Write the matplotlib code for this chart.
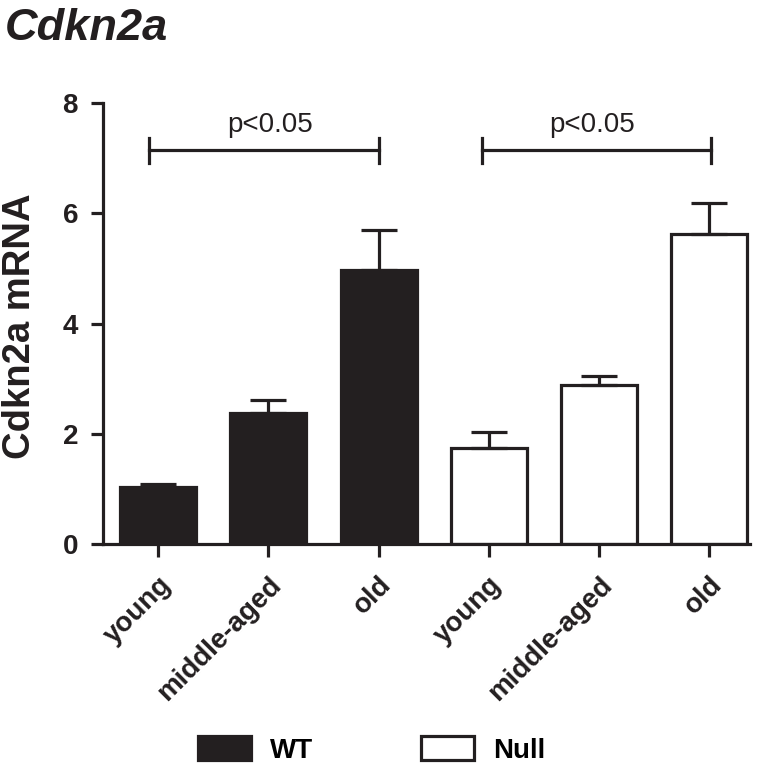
import matplotlib.pyplot as plt
import numpy as np
from matplotlib.patches import Patch

plt.rcParams['font.family'] = ['Liberation Sans', 'DejaVu Sans']

ages = ['young', 'middle-aged', 'old']
wt_mean = [1.03, 2.37, 4.97]
wt_sem = [0.05, 0.24, 0.72]
null_mean = [1.74, 2.89, 5.62]
null_sem = [0.30, 0.16, 0.57]

# significance brackets: (start, end, label position)
brackets = [(-0.08, 2.0, 1.02), (2.94, 5.02, 3.94)]
p_label = 'p<0.05'

ink = '#231f20'
lw = 2.3

fig = plt.figure(figsize=(7.65, 7.68), dpi=100)
ax = fig.add_axes([103/765, 1-544/768, 647/765, 441/768])

x = np.arange(6)
means = wt_mean + null_mean
sems = wt_sem + null_sem
faces = [ink]*3 + ['white']*3

ax.bar(x, means, width=0.69, color=faces, edgecolor=ink, linewidth=lw, zorder=2)
ax.errorbar(x, means, yerr=[np.zeros(6), sems], fmt='none', ecolor=ink,
            elinewidth=lw, capsize=13, capthick=lw, zorder=3)

for x0, x1, xt in brackets:
    ax.plot([x0, x1], [7.14, 7.14], color=ink, lw=lw, clip_on=False)
    ax.plot([x0, x0], [6.92, 7.36], color=ink, lw=lw, clip_on=False)
    ax.plot([x1, x1], [6.92, 7.36], color=ink, lw=lw, clip_on=False)
    ax.text(xt, 7.47, p_label, ha='center', va='baseline', fontsize=20, color=ink)

ax.set_xlim(-0.5, 5.37)
ax.set_ylim(0, 8)
ax.set_yticks([0, 2, 4, 6, 8])
ax.set_xticks(x)
ax.set_xticklabels(ages*2, rotation=45, ha='right', rotation_mode='anchor',
                   fontsize=20, fontweight='bold')
for t in ax.get_yticklabels():
    t.set_fontsize(20)
    t.set_fontweight('bold')
ax.tick_params(axis='both', width=lw, length=9, color=ink, labelcolor=ink)
ax.tick_params(axis='x', pad=11)
ax.tick_params(axis='y', pad=9)
for s in ['top', 'right']:
    ax.spines[s].set_visible(False)
for s in ['left', 'bottom']:
    ax.spines[s].set_linewidth(lw)
    ax.spines[s].set_color(ink)
ax.set_ylabel('Cdkn2a mRNA', fontsize=27.5, fontweight='bold', color=ink)
ax.yaxis.set_label_coords(-0.1, 0.495)

fig.text(0.006, 0.99, 'Cdkn2a', fontsize=32.5, fontweight='bold', style='italic',
         color=ink, ha='left', va='top')

handles = [Patch(facecolor=ink, edgecolor=ink, lw=lw, label='WT'),
           Patch(facecolor='white', edgecolor=ink, lw=lw, label='Null')]
leg = fig.legend(handles=handles, loc='center', bbox_to_anchor=(0.4856, 0.0234),
                 ncol=2, frameon=False, handlelength=1.9, handleheight=0.95,
                 columnspacing=3.9, handletextpad=0.68, borderpad=0,
                 prop={'size': 20, 'weight': 'bold'})

fig.savefig('out.png', dpi=100)
